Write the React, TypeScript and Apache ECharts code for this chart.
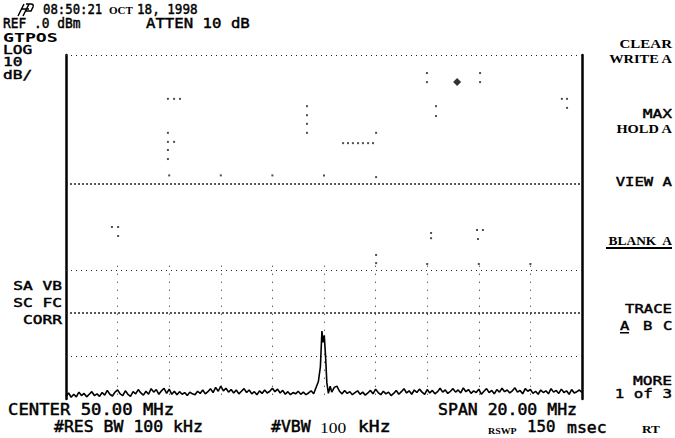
import React, { useEffect, useRef } from "react";
import * as echarts from "echarts";

// Frequency axis (MHz) and amplitude (dBm)
const freqMin = 40;
const freqMax = 60;
const refLevel = 0;
const bottomLevel = -80;

// Noise floor trace, 40.0 .. 60.0 MHz in 0.1 MHz steps
const noiseStart = 40;
const noiseStep = 0.1;
const noiseLevel: number[] = [
  -79.4, -78.6, -79.6, -78.9, -79.5, -78.4, -79.2, -78.7, -79.5, -78.9,
  -78.3, -79.2, -78.8, -79.4, -78.5, -79.1, -78.0, -78.9, -79.3, -78.4,
  -77.9, -78.8, -79.2, -78.1, -78.9, -79.4, -78.3, -78.8, -77.8, -78.6,
  -79.1, -78.2, -78.9, -77.6, -78.4, -77.8, -78.9, -78.1, -77.5, -78.7,
  -77.7, -78.9, -78.2, -79.0, -78.3, -78.9, -78.5, -79.2, -78.4, -78.8,
  -79.0, -78.2, -78.7, -77.9, -78.8, -78.3, -77.6, -78.5, -77.3, -78.2,
  -77.0, -78.1, -77.5, -78.4, -77.8, -78.6, -77.9, -78.8, -78.2, -77.6,
  -78.5, -77.9, -78.8, -78.3, -79.0, -78.1, -78.7, -77.9, -78.6, -78.2,
  -77.5, -78.3, -77.7, -78.6, -78.0, -78.9, -78.3, -79.0, -78.5, -78.8,
  -78.2, -78.9, -78.4, -79.0, -78.6, -78.1, -78.8, -77.7, -76.9, -72.0,
  -64.5, -70.0, -76.0, -78.5, -77.3, -77.0, -78.2, -78.8, -78.0, -78.7,
  -78.3, -79.0, -78.5, -78.1, -78.9, -78.4, -79.1, -78.6, -78.0, -78.8,
  -77.7, -78.5, -79.0, -78.2, -78.8, -78.4, -79.2, -78.7, -78.0, -78.9,
  -78.3, -77.6, -78.6, -78.1, -78.9, -77.9, -78.5, -77.7, -78.4, -78.9,
  -77.8, -78.6, -78.0, -78.8, -78.3, -77.5, -78.4, -77.9, -78.7, -78.2,
  -77.6, -78.4, -77.9, -78.6, -77.4, -78.3, -77.8, -78.7, -78.1, -78.5,
  -77.7, -78.9, -78.2, -77.6, -78.5, -78.0, -78.8, -77.8, -78.4, -77.5,
  -78.3, -77.9, -78.6, -78.1, -77.4, -78.4, -78.0, -78.8, -77.6, -78.2,
  -77.8, -78.7, -78.2, -78.9, -77.9, -78.5, -78.1, -78.8, -77.6, -78.4,
  -78.0, -78.7, -77.7, -78.5, -78.1, -78.9, -77.8, -78.6, -78.3, -77.9,
  -78.5,
];

// Signal peak at the centre frequency (finer reading)
const peakFreq: number[] = [49.7, 49.78, 49.86, 49.92, 49.96, 50.01, 50.06, 50.11, 50.17, 50.24, 50.3];
const peakLevel: number[] = [-77.2, -76.0, -72.5, -64.2, -66.8, -65.2, -70.0, -76.2, -78.7, -77.0, -78.4];

// Stray dots on the photographed screen (MHz, dBm)
const strayFreq: number[] = [
  43.95, 44.19, 44.42, 43.95, 43.95, 44.19, 43.95, 43.95,
  49.34, 49.34, 49.34, 49.34,
  50.74, 50.93, 51.12, 51.32, 51.51, 51.71, 51.9,
  52.02, 52.02, 52.02, 52.02,
  41.78, 42.02, 42.02,
  44, 46, 48, 50,
  53.99, 53.99, 56.05, 56.05,
  54.34, 54.34, 59.22, 59.42, 59.42,
  54.15, 54.15, 55.93, 56.16, 55.97,
  54, 56, 58,
];
const strayLevel: number[] = [
  -10.2, -10.2, -10.2, -18.1, -20.2, -20.2, -22.1, -24.2,
  -11.9, -14.0, -16.0, -18.1,
  -20.5, -20.5, -20.5, -20.5, -20.5, -20.5, -20.5,
  -18.1, -28.4, -46.5, -48.4,
  -40.0, -40.0, -42.1,
  -28, -28, -28, -28,
  -4.2, -6.3, -4.2, -6.3,
  -11.9, -14.2, -10.2, -10.2, -12.3,
  -41.4, -42.6, -40.7, -40.7, -42.8,
  -48.6, -48.6, -48.6,
];
const markerFreq = 55.16;
const markerLevel = -6.3;

// Graticule
const hLines: { level: number; dense: boolean }[] = [
  { level: 0, dense: false },
  { level: -30, dense: true },
  { level: -50, dense: false },
  { level: -60, dense: true },
  { level: -70, dense: false },
];
const vLineFreqs: number[] = [42, 44, 46, 48, 50, 52, 54, 56, 58];

const MONO = "'DejaVu Sans Mono', monospace";
const SERIF = "'Liberation Serif', serif";

function buildTrace(): [number, number][] {
  const pts: [number, number][] = [];
  noiseLevel.forEach((v, i) => {
    const f = +(noiseStart + i * noiseStep).toFixed(2);
    if (f > 49.65 && f < 50.35) return;
    pts.push([f, v]);
  });
  peakFreq.forEach((f, i) => pts.push([f, peakLevel[i]]));
  pts.sort((a, b) => a[0] - b[0]);
  return pts;
}

function txt(
  text: string,
  x: number,
  y: number,
  opts: { size?: number; family?: string; weight?: string; align?: string; sx?: number } = {}
) {
  const size = opts.size ?? 14;
  const family = opts.family ?? MONO;
  const weight = opts.weight ?? "normal";
  const align = opts.align ?? "left";
  const heavy = family === MONO && weight === "normal";
  return {
    type: "text",
    x,
    y,
    scaleX: opts.sx ?? 1,
    silent: true,
    style: {
      text,
      fill: "#000",
      stroke: heavy ? "#000" : undefined,
      lineWidth: heavy ? 0.45 : 0,
      fontSize: size,
      fontFamily: family,
      fontWeight: weight,
      textAlign: align,
      align,
      textVerticalAlign: "middle",
      verticalAlign: "middle",
    },
  };
}

export default function App() {
  const ref = useRef<HTMLDivElement>(null);

  useEffect(() => {
    if (!ref.current) return;
    echarts.graphic.registerShape(
      "hplogo",
      echarts.graphic.extendPath("M0 13 L6 1 M3 6 L11 6 M8 1 L13 1 Q16 1 15 4 L13 8 L8 8 M11 1 L5 13", {})
    );
    const chart = echarts.init(ref.current, null, { renderer: "svg" });

    const markData: any[] = [];
    hLines.forEach((h) => {
      markData.push({
        yAxis: h.level,
        lineStyle: {
          color: "#222",
          width: h.dense ? 1.6 : 1,
          type: h.dense ? [2, 2] : [1, 4],
        },
      });
    });
    vLineFreqs.forEach((f) => {
      markData.push([
        { coord: [f, -49], lineStyle: { color: "#222", width: 1, type: [1, 7] } },
        { coord: [f, -79] },
      ]);
    });

    const graphic: any[] = [
      {
        type: "hplogo",
        x: 18,
        y: 3,
        style: { stroke: "#000", fill: "none", lineWidth: 1.5 },
        silent: true,
      },
      txt("08:50:21", 43, 9, { size: 14, sx: 0.88 }),
      txt("OCT", 109, 10, { size: 11, family: SERIF, weight: "bold" }),
      txt("18, 1998", 137, 9, { size: 14, sx: 0.9 }),
      txt("REF .0 dBm", 3, 23, { size: 14, sx: 0.92 }),
      txt("ATTEN 10 dB", 146, 23, { size: 14, sx: 1.12 }),
      txt("GTPOS", 3, 37, { size: 13, weight: "bold", sx: 1.4 }),
      txt("LOG", 3, 50, { size: 12, sx: 1.35 }),
      txt("10", 3, 62, { size: 12, sx: 1.35 }),
      txt("dB/", 3, 75, { size: 12, sx: 1.35 }),
      txt("SA VB", 62, 286, { size: 12, align: "right", sx: 1.35 }),
      txt("SC FC", 62, 303, { size: 12, align: "right", sx: 1.35 }),
      txt("CORR", 62, 320, { size: 12, align: "right", sx: 1.35 }),
      txt("CLEAR", 672, 44, { size: 12, family: SERIF, weight: "bold", align: "right", sx: 1.25 }),
      txt("WRITE A", 672, 59, { size: 12, family: SERIF, weight: "bold", align: "right", sx: 1.2 }),
      txt("MAX", 672, 113, { size: 13, align: "right", sx: 1.25 }),
      txt("HOLD A", 672, 129, { size: 12, family: SERIF, weight: "bold", align: "right", sx: 1.2 }),
      txt("VIEW A", 672, 181, { size: 13, align: "right", sx: 1.2 }),
      txt("BLANK  A", 672, 241, { size: 12, family: SERIF, weight: "bold", align: "right", sx: 1.12 }),
      {
        type: "rect",
        shape: { x: 606, y: 247, width: 66, height: 2 },
        style: { fill: "#000" },
        silent: true,
      },
      txt("TRACE", 672, 308, { size: 13, align: "right", sx: 1.2 }),
      txt("A", 620, 325, { size: 13, sx: 1.2 }),
      txt("B", 643, 325, { size: 13, sx: 1.2 }),
      txt("C", 663, 325, { size: 13, sx: 1.2 }),
      {
        type: "rect",
        shape: { x: 620, y: 332, width: 9, height: 1.5 },
        style: { fill: "#000" },
        silent: true,
      },
      txt("MORE", 672, 380, { size: 13, align: "right", sx: 1.25 }),
      txt("1 of 3", 672, 394, { size: 13, align: "right", sx: 1.22 }),
      txt("CENTER 50.00 MHz", 8, 410, { size: 15, sx: 1.15 }),
      txt("SPAN 20.00 MHz", 577, 410, { size: 15, align: "right", sx: 1.1 }),
      txt("#RES BW 100 kHz", 54, 427, { size: 15, sx: 1.1 }),
      txt("#VBW", 271, 427, { size: 15, sx: 1.1 }),
      txt("100", 320, 428, { size: 14, family: SERIF, sx: 1.25 }),
      txt("kHz", 358, 427, { size: 15, sx: 1.2 }),
      txt("RSWP", 488, 431, { size: 9, family: SERIF, weight: "bold", sx: 1.1 }),
      txt("150", 527, 427, { size: 15, sx: 1.05 }),
      txt("msec", 567, 428, { size: 15, sx: 1.1 }),
      txt("RT", 642, 429, { size: 11, family: SERIF, weight: "bold", sx: 1.2 }),
    ];

    chart.setOption({
      animation: false,
      backgroundColor: "#fff",
      grid: { left: 66, top: 55, width: 516, height: 344 },
      xAxis: {
        type: "value",
        min: freqMin,
        max: freqMax,
        axisLine: { show: false },
        axisTick: { show: false },
        axisLabel: { show: false },
        splitLine: { show: false },
      },
      yAxis: [
        {
          type: "value",
          min: bottomLevel,
          max: refLevel,
          position: "left",
          axisLine: { show: true, lineStyle: { color: "#000", width: 2.5 } },
          axisTick: { show: false },
          axisLabel: { show: false },
          splitLine: { show: false },
        },
        {
          type: "value",
          min: bottomLevel,
          max: refLevel,
          position: "right",
          axisLine: { show: true, lineStyle: { color: "#000", width: 2.5 } },
          axisTick: { show: false },
          axisLabel: { show: false },
          splitLine: { show: false },
        },
      ],
      graphic,
      series: [
        {
          type: "line",
          data: buildTrace(),
          showSymbol: false,
          symbol: "none",
          clip: false,
          lineStyle: { color: "#000", width: 1.6 },
          markLine: {
            silent: true,
            symbol: "none",
            label: { show: false },
            data: markData,
          },
        },
        {
          type: "scatter",
          data: strayFreq.map((f, i) => [f, strayLevel[i]]),
          symbol: "rect",
          symbolSize: 2,
          itemStyle: { color: "#222" },
          silent: true,
        },
        {
          type: "scatter",
          data: [[markerFreq, markerLevel]],
          symbol: "diamond",
          symbolSize: 8,
          itemStyle: { color: "#000" },
          silent: true,
        },
      ],
    });
    return () => chart.dispose();
  }, []);

  return <div ref={ref} style={{ width: 675, height: 438, position: "absolute", left: 0, top: 0 }} />;
}
